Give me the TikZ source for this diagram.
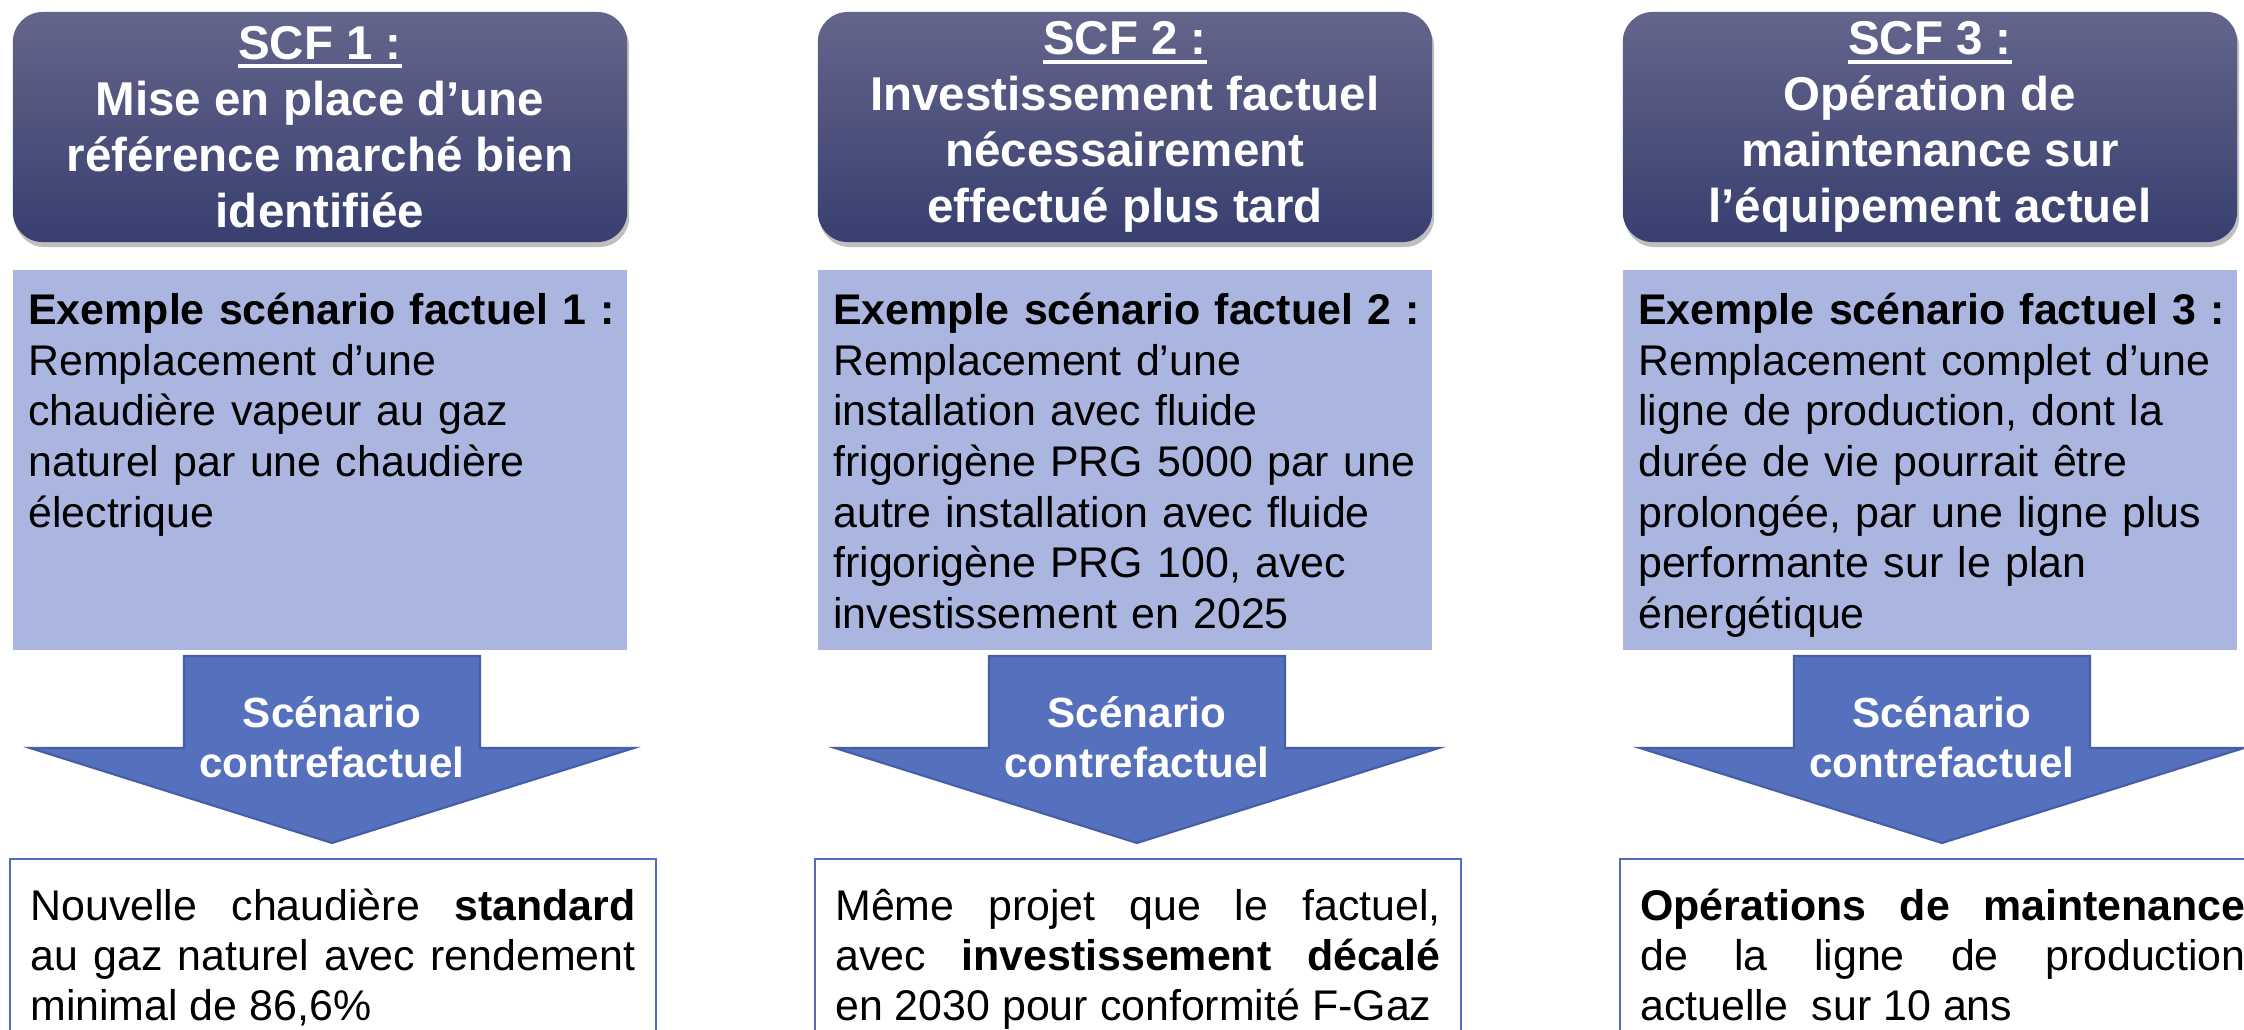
\documentclass[tikz,border=0pt]{standalone}
\usepackage{fontspec}
\setmainfont{Liberation Sans}
\usetikzlibrary{positioning, shadows, backgrounds}
\definecolor{scftop}{RGB}{99,101,139}
\definecolor{scfbottom}{RGB}{56,63,111}
\definecolor{factfill}{RGB}{171,182,224}
\definecolor{contrefill}{RGB}{85,112,189}
\definecolor{contreline}{RGB}{68,94,170}
\definecolor{resultline}{RGB}{84,108,190}
\newcommand{\scful}[1]{\setbox0\hbox{#1}\rlap{\rule[-0.09cm]{\wd0}{0.04cm}}\box0}
\newcommand{\facttitle}[1]{\makebox[\linewidth][l]{\textbf{#1}}}
\tikzset{node distance=8.045cm,
	scf/.style={rounded corners=0.3cm, minimum width=6.14cm, minimum height=2.3cm, inner sep=0pt,
		top color=scftop, bottom color=scfbottom,
		drop shadow={opacity=0.5, shadow xshift=0.02cm, shadow yshift=-0.05cm},
		text=white, align=center, font=\bfseries\fontsize{13.5}{15.9}\selectfont},
	fact/.style={fill=factfill, text width=5.83cm, inner xsep=0.15cm, inner ysep=0.22cm,
		text height=0.33cm, text depth=3.03cm, align=left, font=\fontsize{12.2}{14.4}\selectfont},
	contre/.style={fill=contrefill, draw=contreline, line width=0.6pt},
	contretext/.style={text=white, align=center, font=\bfseries\fontsize{12}{14.2}\selectfont},
	result/.style={draw=resultline, line width=0.6pt, fill=white, text width=6.05cm,
		inner xsep=0.2cm, inner ysep=0.28cm, text height=0.33cm, text depth=2.2cm,
		align=justify, font=\fontsize{12.2}{14.3}\selectfont}}

\begin{document}
\begin{tikzpicture}[x=0.01cm, y=0.01cm]
    \useasboundingbox (0,0) rectangle (2244,-1029);
    % les trois SCF
    \node[scf] (h1) at (320,-127) {\scful{SCF 1 :}\\Mise en place d’une\\référence marché bien\\identifiée};
    \node[scf, right of=h1] (h2) {\scful{SCF 2 :}\\Investissement factuel\\nécessairement\\effectué plus tard};
    \node[scf, right of=h2] (h3) {\scful{SCF 3 :}\\Opération de\\maintenance sur\\l’équipement actuel};
    % scenarios factuels
    \node[fact, below=0.26cm of h1] (f1) {\facttitle{Exemple scénario factuel 1 :}\\Remplacement d’une\\chaudière vapeur au gaz\\naturel par une chaudière\\électrique};
    \node[fact, right of=f1] (f2) {\facttitle{Exemple scénario factuel 2 :}\\Remplacement d’une\\installation avec fluide\\frigorigène PRG 5000 par une\\autre installation avec fluide\\frigorigène PRG 100, avec\\investissement en 2025};
    \node[fact, right of=f2] (f3) {\facttitle{Exemple scénario factuel 3 :}\\Remplacement complet d’une\\ligne de production, dont la\\durée de vie pourrait être\\prolongée, par une ligne plus\\performante sur le plan\\énergétique};
    % fleches vers le contrefactuel
    \node[contretext] (s1) at (332,-737) {Scénario\\contrefactuel};
    \node[contretext, right of=s1] (s2) {Scénario\\contrefactuel};
    \node[contretext, right of=s2] (s3) {Scénario\\contrefactuel};
    \begin{scope}[on background layer]
        \draw[contre, shift={(s1)}] (-148,81) -- (148,81) -- (148,-11) -- (302,-11) -- (0,-106) -- (-302,-11) -- (-148,-11) -- cycle;
        \draw[contre, shift={(s2)}] (-148,81) -- (148,81) -- (148,-11) -- (302,-11) -- (0,-106) -- (-302,-11) -- (-148,-11) -- cycle;
        \draw[contre, shift={(s3)}] (-148,81) -- (148,81) -- (148,-11) -- (302,-11) -- (0,-106) -- (-302,-11) -- (-148,-11) -- cycle;
    \end{scope}
    % scenarios contrefactuels
    \node[result, anchor=north] (b1) at (333,-858) {Nouvelle chaudière \textbf{standard}\linebreak au gaz naturel avec rendement\linebreak minimal de 86,6\%};
    \node[result, right of=b1] (b2) {Même projet que le factuel,\linebreak avec \textbf{investissement décalé}\linebreak en 2030 pour conformité F-Gaz};
    \node[result, right of=b2] (b3) {\textbf{Opérations de maintenance}\linebreak de la ligne de production\linebreak actuelle~ sur 10 ans};
\end{tikzpicture}
\end{document}
